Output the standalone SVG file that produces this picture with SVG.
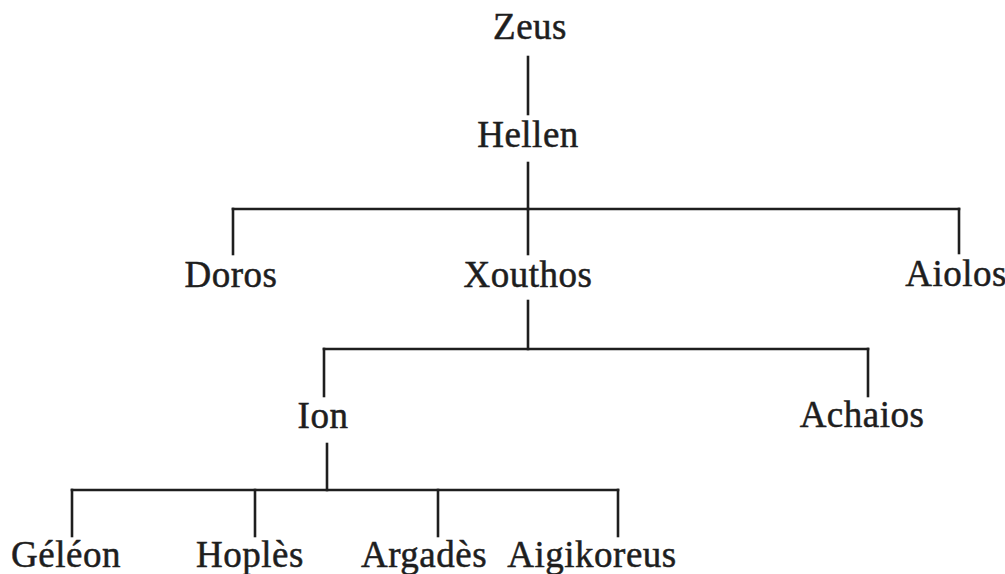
<svg xmlns="http://www.w3.org/2000/svg" width="1005" height="574" viewBox="0 0 1005 574">
<style>
text{font-family:"Liberation Serif","Times New Roman",serif;font-size:37px;fill:#1e1e1e;stroke:#1e1e1e;stroke-width:0.5;text-anchor:middle;letter-spacing:0.5px}
.c line{stroke:#1e1e1e;stroke-width:2.6;stroke-linecap:square}
</style>
<rect width="1005" height="574" fill="#fff"/>
<g class="c" id="connectors">
<line x1="528" y1="57" x2="528" y2="114"/>
<line x1="528" y1="163" x2="528" y2="209"/>
<line x1="233" y1="209" x2="959" y2="209"/>
<line x1="233" y1="209" x2="233" y2="254"/>
<line x1="528" y1="209" x2="528" y2="254"/>
<line x1="959" y1="209" x2="959" y2="253"/>
<line x1="528" y1="301" x2="528" y2="349"/>
<line x1="324" y1="349" x2="868" y2="349"/>
<line x1="324" y1="349" x2="324" y2="396"/>
<line x1="868" y1="349" x2="868" y2="396"/>
<line x1="327" y1="444" x2="327" y2="490"/>
<line x1="72" y1="490" x2="618" y2="490"/>
<line x1="72" y1="490" x2="72" y2="536"/>
<line x1="255" y1="490" x2="255" y2="536"/>
<line x1="438" y1="490" x2="438" y2="536"/>
<line x1="618" y1="490" x2="618" y2="536"/>
</g>
<g id="zeus"><text x="530" y="39">Zeus</text></g>
<g id="hellen"><text x="528" y="147">Hellen</text></g>
<g id="doros"><text x="231" y="287">Doros</text></g>
<g id="xouthos"><text x="528" y="287">Xouthos</text></g>
<g id="aiolos"><text x="956" y="286">Aiolos</text></g>
<g id="ion"><text x="323" y="428">Ion</text></g>
<g id="achaios"><text x="862" y="427">Achaios</text></g>
<g id="geleon"><text x="66" y="567">Géléon</text></g>
<g id="hoples"><text x="250" y="567">Hoplès</text></g>
<g id="argades"><text x="424" y="567">Argadès</text></g>
<g id="aigikoreus"><text x="592" y="567">Aigikoreus</text></g>
</svg>
